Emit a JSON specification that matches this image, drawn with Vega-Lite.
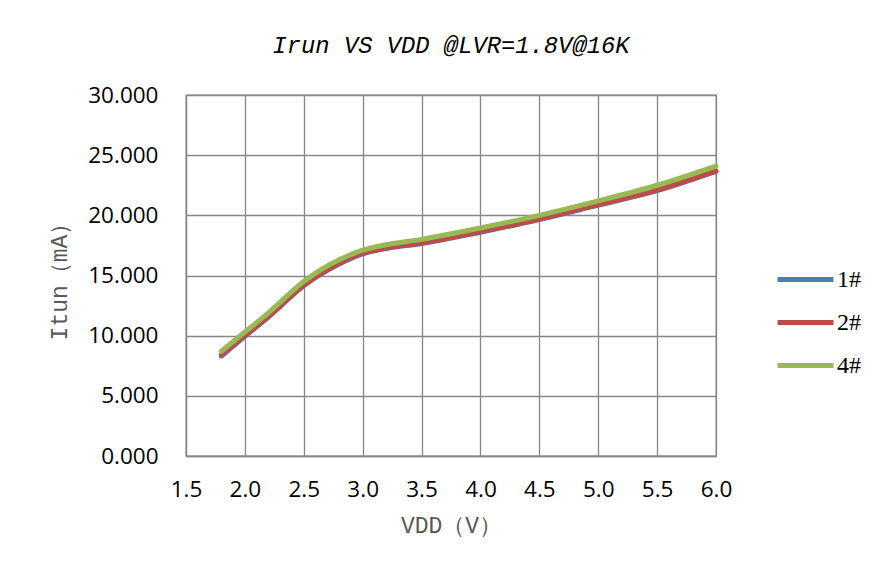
{
  "$schema": "https://vega.github.io/schema/vega-lite/v6.json",
  "autosize": "none",
  "width": 530,
  "height": 361,
  "padding": {"left": 186, "top": 95, "right": 162, "bottom": 123},
  "background": "white",
  "title": {
    "text": "Irun VS VDD @LVR=1.8V@16K",
    "font": "Liberation Mono",
    "fontStyle": "italic",
    "fontWeight": "normal",
    "fontSize": 23.8,
    "color": "#000000",
    "anchor": "middle",
    "offset": 26
  },
  "data": {
    "values": [
      {"vdd": 1.8, "itun": 8.3, "series": "1#"},
      {"vdd": 2.0, "itun": 9.95, "series": "1#"},
      {"vdd": 2.2, "itun": 11.55, "series": "1#"},
      {"vdd": 2.5, "itun": 14.15, "series": "1#"},
      {"vdd": 2.8, "itun": 15.95, "series": "1#"},
      {"vdd": 3.0, "itun": 16.8, "series": "1#"},
      {"vdd": 3.2, "itun": 17.25, "series": "1#"},
      {"vdd": 3.5, "itun": 17.65, "series": "1#"},
      {"vdd": 4.0, "itun": 18.6, "series": "1#"},
      {"vdd": 4.5, "itun": 19.65, "series": "1#"},
      {"vdd": 5.0, "itun": 20.85, "series": "1#"},
      {"vdd": 5.5, "itun": 22.05, "series": "1#"},
      {"vdd": 6.0, "itun": 23.65, "series": "1#"},
      {"vdd": 1.8, "itun": 8.4, "series": "2#"},
      {"vdd": 2.0, "itun": 10.0, "series": "2#"},
      {"vdd": 2.2, "itun": 11.6, "series": "2#"},
      {"vdd": 2.5, "itun": 14.2, "series": "2#"},
      {"vdd": 2.8, "itun": 16.0, "series": "2#"},
      {"vdd": 3.0, "itun": 16.85, "series": "2#"},
      {"vdd": 3.2, "itun": 17.3, "series": "2#"},
      {"vdd": 3.5, "itun": 17.7, "series": "2#"},
      {"vdd": 4.0, "itun": 18.65, "series": "2#"},
      {"vdd": 4.5, "itun": 19.7, "series": "2#"},
      {"vdd": 5.0, "itun": 20.9, "series": "2#"},
      {"vdd": 5.5, "itun": 22.1, "series": "2#"},
      {"vdd": 6.0, "itun": 23.7, "series": "2#"},
      {"vdd": 1.8, "itun": 8.7, "series": "4#"},
      {"vdd": 2.0, "itun": 10.3, "series": "4#"},
      {"vdd": 2.2, "itun": 11.9, "series": "4#"},
      {"vdd": 2.5, "itun": 14.5, "series": "4#"},
      {"vdd": 2.8, "itun": 16.3, "series": "4#"},
      {"vdd": 3.0, "itun": 17.1, "series": "4#"},
      {"vdd": 3.2, "itun": 17.55, "series": "4#"},
      {"vdd": 3.5, "itun": 18.0, "series": "4#"},
      {"vdd": 4.0, "itun": 18.95, "series": "4#"},
      {"vdd": 4.5, "itun": 20.0, "series": "4#"},
      {"vdd": 5.0, "itun": 21.2, "series": "4#"},
      {"vdd": 5.5, "itun": 22.5, "series": "4#"},
      {"vdd": 6.0, "itun": 24.1, "series": "4#"}
    ]
  },
  "mark": {"type": "line", "interpolate": "monotone", "strokeWidth": 5, "strokeCap": "round", "clip": false},
  "encoding": {
    "x": {
      "field": "vdd",
      "type": "quantitative",
      "scale": {"domain": [1.5, 6.0], "nice": false, "zero": false},
      "axis": {
        "values": [1.5, 2.0, 2.5, 3.0, 3.5, 4.0, 4.5, 5.0, 5.5, 6.0],
        "format": ".1f",
        "title": "VDD（V）",
        "labelFlush": false,
        "labelPadding": 22,
        "titlePadding": 14
      }
    },
    "y": {
      "field": "itun",
      "type": "quantitative",
      "scale": {"domain": [0, 30], "nice": false},
      "axis": {
        "values": [0, 5, 10, 15, 20, 25, 30],
        "format": ".3f",
        "title": "Itun（mA）",
        "labelFlush": false,
        "labelPadding": 28,
        "titlePadding": 16
      }
    },
    "color": {
      "field": "series",
      "type": "nominal",
      "scale": {"domain": ["1#", "2#", "4#"], "range": ["#4A7EBB", "#BE4B48", "#98B954"]},
      "legend": {
        "title": null,
        "orient": "none",
        "legendX": 589,
        "legendY": 154,
        "symbolType": "stroke",
        "symbolSize": 3136,
        "symbolStrokeWidth": 5,
        "labelFont": "Liberation Serif",
        "labelFontSize": 24,
        "labelColor": "#000000",
        "labelOffset": 1,
        "rowPadding": 0
      }
    },
    "order": {"field": "series"}
  },
  "config": {
    "view": {"stroke": "#878787", "strokeWidth": 1.3},
    "axis": {
      "labelFont": "Open Sans",
      "labelFontSize": 22.5,
      "labelColor": "#000000",
      "ticks": false,
      "domainColor": "#878787",
      "domainWidth": 1.3,
      "grid": true,
      "gridColor": "#878787",
      "gridWidth": 1.3,
      "gridOpacity": 1,
      "titleFont": "Liberation Mono",
      "titleFontSize": 23,
      "titleFontWeight": "normal",
      "titleColor": "#595959"
    }
  }
}
